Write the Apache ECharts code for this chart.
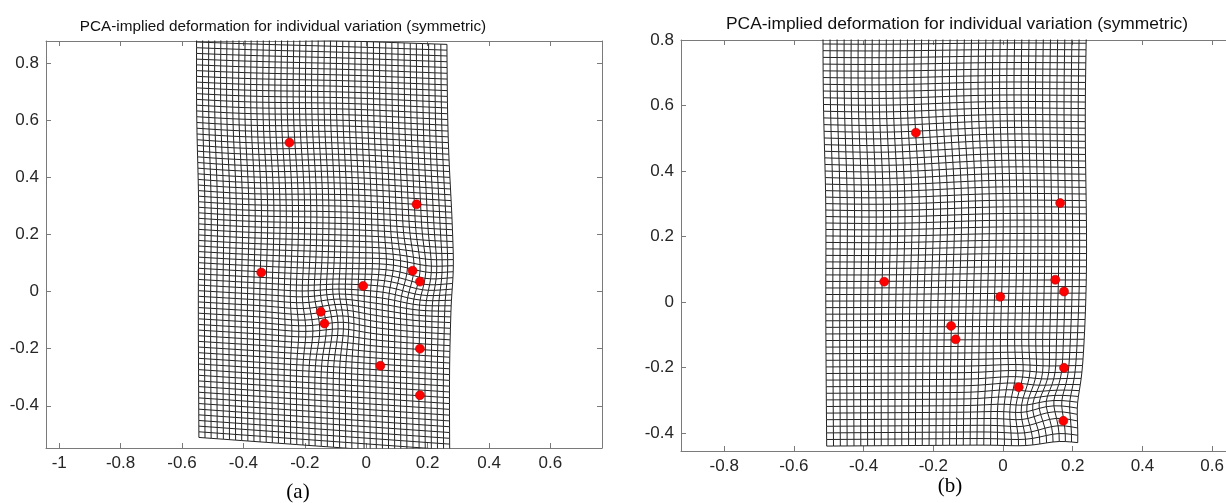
<!DOCTYPE html>
<html><head><meta charset="utf-8">
<script src="https://cdn.jsdelivr.net/npm/echarts@6/dist/echarts.min.js"></script>
<style>html,body{margin:0;padding:0;background:#fff;overflow:hidden}#c{width:1270px;height:503px}</style>
</head><body><div id="c"></div>
<script>
// ---------- text ----------
const titleText = 'PCA-implied deformation for individual variation (symmetric)';
const panelLabels = ['(a)', '(b)'];

// ---------- panel (a) ----------
const xTicksA = [-1, -0.8, -0.6, -0.4, -0.2, 0, 0.2, 0.4, 0.6];
const yTicksA = [-0.4, -0.2, 0, 0.2, 0.4, 0.6, 0.8];
const landmarksXA = [-0.250, 0.164, -0.342, -0.010, 0.151, 0.175, -0.148, -0.136, 0.175, 0.046, 0.175];
const landmarksYA = [0.522, 0.306, 0.067, 0.020, 0.073, 0.035, -0.071, -0.112, -0.200, -0.260, -0.363];
// outline of the deformed mesh: top-left, top-right, bottom-right, bottom-left
const meshCornerXA = [-0.552, 0.263, 0.272, -0.545];
const meshCornerYA = [0.895, 0.866, -0.575, -0.511];
// local distortions: centre, shift, radius, twist
const warpCxA = [-0.14, 0.13, 0.00, 0.28, -0.25];
const warpCyA = [-0.09, 0.04, -0.02, 0.15, 0.45];
const warpDxA = [0.012, 0.010, 0.000, 0.014, 0.004];
const warpDyA = [0.010, -0.010, 0.008, 0.000, -0.004];
const warpRA  = [0.07, 0.07, 0.10, 0.20, 0.20];
const warpTwA = [0.22, -0.22, 0.0, 0.0, 0.06];

// ---------- panel (b) ----------
const xTicksB = [-0.8, -0.6, -0.4, -0.2, 0, 0.2, 0.4, 0.6];
const yTicksB = [-0.4, -0.2, 0, 0.2, 0.4, 0.6, 0.8];
const landmarksXB = [-0.250, 0.164, -0.341, -0.008, 0.150, 0.175, -0.149, -0.136, 0.175, 0.045, 0.173];
const landmarksYB = [0.517, 0.302, 0.062, 0.016, 0.068, 0.032, -0.073, -0.114, -0.201, -0.260, -0.363];
const meshCornerXB = [-0.516, 0.240, 0.218, -0.506];
const meshCornerYB = [0.87, 0.87, -0.435, -0.44];
const warpCxB = [0.12, 0.06, 0.26, 0.25, -0.20];
const warpCyB = [-0.36, -0.27, -0.42, 0.05, 0.45];
const warpDxB = [-0.010, 0.008, -0.008, 0.012, 0.004];
const warpDyB = [0.012, 0.006, 0.000, 0.000, -0.004];
const warpRB  = [0.06, 0.06, 0.12, 0.25, 0.20];
const warpTwB = [0.35, -0.15, 0.0, 0.0, 0.06];

// ---------- mesh builder ----------
function buildMesh(cx, cy, wcx, wcy, wdx, wdy, wr, wtw, cell) {
  const w = ((cx[1] - cx[0]) + (cx[2] - cx[3])) / 2;
  const h = ((cy[0] - cy[3]) + (cy[1] - cy[2])) / 2;
  const nu = Math.round(w / cell), nv = Math.round(h / cell);
  const P = [];
  for (let i = 0; i <= nu; i++) {
    P.push([]);
    const u = i / nu;
    for (let j = 0; j <= nv; j++) {
      const v = j / nv; // 0 bottom, 1 top
      const bx = (1 - u) * (1 - v) * cx[3] + u * (1 - v) * cx[2] + u * v * cx[1] + (1 - u) * v * cx[0];
      const by = (1 - u) * (1 - v) * cy[3] + u * (1 - v) * cy[2] + u * v * cy[1] + (1 - u) * v * cy[0];
      let x = bx, y = by;
      for (let k = 0; k < wcx.length; k++) {
        const ddx = bx - wcx[k], ddy = by - wcy[k];
        const g = Math.exp(-(ddx * ddx + ddy * ddy) / (2 * wr[k] * wr[k]));
        x += wdx[k] * g - wtw[k] * g * ddy;
        y += wdy[k] * g + wtw[k] * g * ddx;
      }
      P[i].push([x, y]);
    }
  }
  const data = [];
  for (let i = 0; i <= nu; i++) { for (let j = 0; j <= nv; j++) data.push(P[i][j]); data.push([NaN, NaN]); }
  for (let j = 0; j <= nv; j++) { for (let i = 0; i <= nu; i++) data.push(P[i][j]); data.push([NaN, NaN]); }
  return data;
}

const meshA = buildMesh(meshCornerXA, meshCornerYA, warpCxA, warpCyA, warpDxA, warpDyA, warpRA, warpTwA, 0.02);
const meshB = buildMesh(meshCornerXB, meshCornerYB, warpCxB, warpCyB, warpDxB, warpDyB, warpRB, warpTwB, 0.02);
const ptsA = landmarksXA.map((x, i) => [x, landmarksYA[i]]);
const ptsB = landmarksXB.map((x, i) => [x, landmarksYB[i]]);

const AX = '#7a7a7a', TXT = '#262626', FONT = 'Liberation Sans, Arial, sans-serif';
const fmt = v => String(Math.round(v * 10) / 10);

function axis(gridIndex, pos, min, max, ticks, showLabel) {
  return {
    type: 'value', gridIndex, position: pos, min, max, scale: true,
    axisLine: { show: true, onZero: false, lineStyle: { color: AX, width: 1 } },
    axisTick: { show: true, inside: true, length: 5, customValues: ticks, lineStyle: { color: AX, width: 1 } },
    axisLabel: { show: showLabel, customValues: ticks, formatter: fmt, color: TXT, fontSize: 17, fontFamily: FONT, margin: 7 },
    splitLine: { show: false }
  };
}

const chart = echarts.init(document.getElementById('c'));
chart.setOption({
  animation: false,
  backgroundColor: '#fff',
  title: [
    { text: titleText, left: 278, top: 14, textAlign: 'center',
      textStyle: { fontSize: 15.3, fontWeight: 'normal', color: '#111', fontFamily: FONT } },
    { text: titleText, left: 952, top: 11, textAlign: 'center',
      textStyle: { fontSize: 17.4, fontWeight: 'normal', color: '#111', fontFamily: FONT } }
  ],
  grid: [
    { left: 46, top: 41, width: 556, height: 407 },
    { left: 681, top: 40, width: 566, height: 411 }
  ],
  xAxis: [
    axis(0, 'bottom', -1.043, 0.768, xTicksA, true),
    axis(0, 'top', -1.043, 0.768, xTicksA, false),
    axis(1, 'bottom', -0.924, 0.70, xTicksB, true),
    axis(1, 'top', -0.924, 0.70, xTicksB, false)
  ],
  yAxis: [
    axis(0, 'left', -0.548, 0.878, yTicksA, true),
    axis(0, 'right', -0.548, 0.878, yTicksA, false),
    axis(1, 'left', -0.455, 0.80, yTicksB, true),
    axis(1, 'right', -0.455, 0.80, yTicksB, false)
  ],
  series: [
    { type: 'line', xAxisIndex: 0, yAxisIndex: 0, data: meshA, showSymbol: false, symbol: 'none',
      connectNulls: false, clip: true, silent: true, lineStyle: { color: '#222', width: 1 } },
    { type: 'line', xAxisIndex: 2, yAxisIndex: 2, data: meshB, showSymbol: false, symbol: 'none',
      connectNulls: false, clip: true, silent: true, lineStyle: { color: '#222', width: 1 } },
    { type: 'scatter', xAxisIndex: 0, yAxisIndex: 0, data: ptsA, symbolSize: 9, z: 5,
      itemStyle: { color: '#ff0000', borderColor: '#b00000', borderWidth: 0.6, opacity: 1 } },
    { type: 'scatter', xAxisIndex: 2, yAxisIndex: 2, data: ptsB, symbolSize: 9, z: 5,
      itemStyle: { color: '#ff0000', borderColor: '#b00000', borderWidth: 0.6, opacity: 1 } }
  ],
  graphic: [
    { type: 'text', x: 298, y: 492, style: { text: panelLabels[0], font: '21px "Liberation Serif", "Times New Roman", serif', fill: '#000', textAlign: 'center', textVerticalAlign: 'middle' } },
    { type: 'text', x: 950, y: 486, style: { text: panelLabels[1], font: '21px "Liberation Serif", "Times New Roman", serif', fill: '#000', textAlign: 'center', textVerticalAlign: 'middle' } }
  ]
});
</script></body></html>
